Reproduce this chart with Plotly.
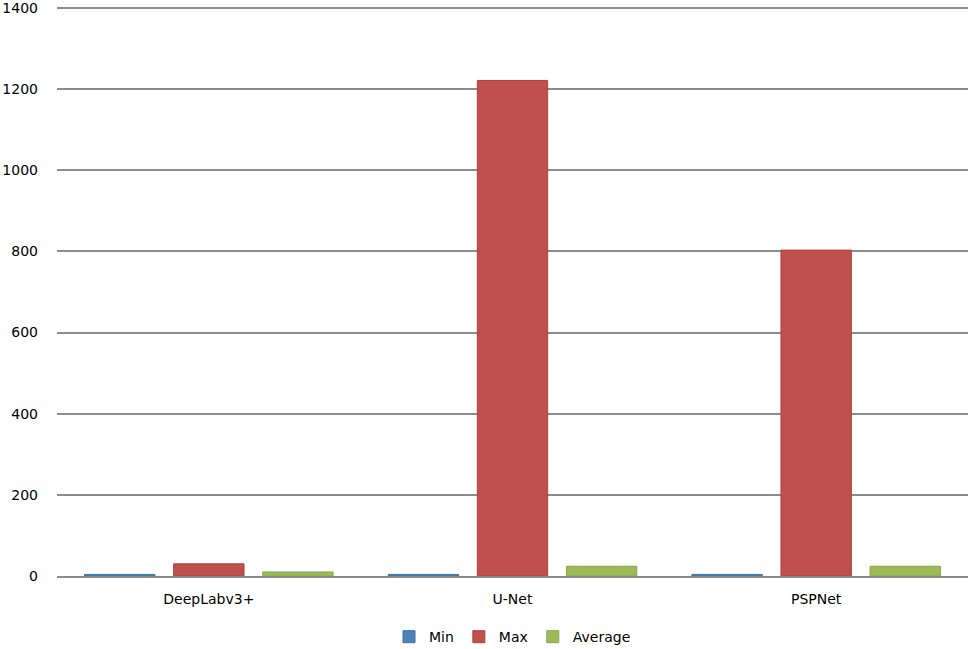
import plotly.graph_objects as go

categories = ["DeepLabv3+", "U-Net", "PSPNet"]
min_vals = [4, 4, 4]
max_vals = [30, 1221, 803]
avg_vals = [10, 24, 24]
y_ticks = [0, 200, 400, 600, 800, 1000, 1200, 1400]

series = [
    ("Min", min_vals, "#4F81BD", "#3F6FA8"),
    ("Max", max_vals, "#C0504D", "#B03F3C"),
    ("Average", avg_vals, "#9BBB59", "#86A846"),
]

fig = go.Figure()
for name, vals, col, lcol in series:
    fig.add_trace(go.Bar(
        x=categories, y=vals, name=name,
        marker=dict(color=col, line=dict(color=lcol, width=1)),
    ))

fig.update_layout(
    width=970, height=649,
    margin=dict(l=57, r=2, t=5, b=73, autoexpand=False),
    paper_bgcolor="white", plot_bgcolor="white",
    barmode="group", bargap=0.12, bargroupgap=0.21,
    font=dict(family="DejaVu Sans", size=14, color="#000000"),
    showlegend=True,
    legend=dict(orientation="h", x=0.5, xanchor="center", y=-0.107, yanchor="middle",
                font=dict(size=14), itemwidth=30, tracegroupgap=0),
    xaxis=dict(showgrid=False, showline=True, linecolor="#8C8C8C", linewidth=1.5,
               ticks="", tickfont=dict(size=14), automargin=False,
               ticklabelstandoff=9),
    yaxis=dict(range=[0, 1407], tickvals=y_ticks, showgrid=True, gridcolor="#8C8C8C",
               gridwidth=1.5, zeroline=False, showline=False, ticks="",
               tickfont=dict(size=14), ticklabelstandoff=18, automargin=False,
               ticklabeloverflow="allow"),
)

fig.write_html("out.html", config={"displayModeBar": False},
               post_script="document.body.style.margin='0';document.body.style.overflow='hidden';")
